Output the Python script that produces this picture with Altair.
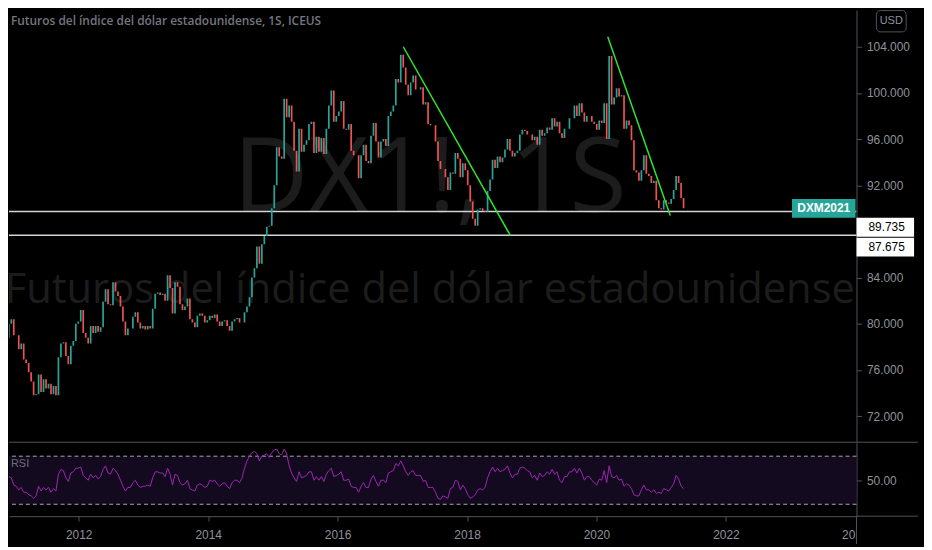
import altair as alt
import pandas as pd

# biweekly closes of the DX1! futures
first_open = 76.0
close_2010 = [76.5, 78.8, 80.0, 80.4, 79.0]
close_2011 = [79.0, 77.8, 78.3, 76.9, 76.6, 75.8, 75.0, 73.8, 73.9, 75.6, 74.1, 75.2, 74.4,
              74.8, 73.9, 74.6, 73.8, 77.1, 78.3, 78.4, 77.2, 76.5, 78.1, 78.5, 80.0, 80.2]
close_2012 = [81.2, 79.2, 78.8, 78.3, 79.8, 79.2, 79.8, 79.3, 79.7, 81.9, 83.0, 81.7, 81.6,
              83.6, 82.8, 82.4, 81.5, 80.2, 79.0, 79.6, 79.6, 80.6, 81.0, 80.1, 79.6, 79.8]
close_2013 = [79.5, 79.8, 79.6, 81.3, 82.6, 82.7, 82.5, 82.6, 82.0, 84.2, 83.1, 80.9, 83.6,
              83.2, 81.7, 81.2, 81.5, 82.2, 80.4, 80.1, 79.7, 80.7, 80.9, 80.7, 80.1, 80.3]
close_2014 = [80.7, 80.5, 80.8, 80.2, 79.8, 80.2, 80.3, 79.8, 79.4, 80.2, 80.4, 80.5, 80.1,
              80.1, 81.0, 81.5, 82.3, 84.0, 84.8, 86.7, 85.2, 86.9, 87.6, 88.4, 88.5, 90.0]
close_2015 = [92.0, 95.3, 94.5, 94.3, 99.5, 97.9, 98.9, 97.5, 95.0, 93.2, 96.9, 94.9, 95.5,
              95.9, 97.3, 97.5, 94.8, 96.2, 94.9, 96.1, 94.7, 96.9, 98.9, 100.2, 97.5, 98.0]
close_2016 = [98.4, 99.3, 96.9, 96.8, 97.3, 95.0, 94.6, 94.6, 92.6, 94.6, 95.5, 94.1, 93.9,
              96.3, 97.4, 95.8, 94.4, 95.8, 96.0, 95.4, 98.0, 98.4, 98.9, 101.2, 100.9, 103.3]
close_2017 = [102.2, 100.7, 99.8, 100.9, 101.5, 100.3, 100.3, 100.5, 99.0, 99.2, 97.3, 97.2,
              97.2, 95.8, 94.1, 93.4, 93.4, 92.7, 91.6, 93.1, 93.0, 94.8, 94.3, 92.7, 93.9, 93.3]
close_2018 = [92.0, 90.6, 89.1, 88.5, 89.9, 90.0, 89.8, 89.7, 91.5, 92.5, 94.2, 93.5, 94.5,
              94.0, 94.4, 95.1, 96.0, 95.0, 94.5, 94.8, 95.0, 96.4, 96.8, 96.7, 96.4, 96.4]
close_2019 = [95.9, 96.2, 95.5, 96.8, 96.3, 96.5, 97.0, 96.8, 97.8, 97.1, 97.5, 96.5, 96.1,
              96.9, 96.9, 97.8, 97.8, 98.9, 98.0, 99.1, 98.3, 97.5, 98.0, 98.0, 97.5, 97.3]
close_2020 = [96.8, 97.6, 97.4, 99.1, 96.0, 103.2, 99.0, 99.6, 100.4, 99.7, 99.8, 96.9, 97.6,
              97.2, 95.9, 93.3, 93.1, 92.4, 93.3, 94.6, 93.0, 92.8, 92.2, 92.4, 90.7, 90.0]
close_2021 = [89.9, 90.7, 90.5, 90.4, 90.8, 91.6, 92.8, 92.2, 90.9, 90.0]

rsi_2010 = [39, 47, 53, 52, 46]
rsi_2011 = [45, 42, 44, 40, 40, 38, 37, 35, 37, 45, 41, 44, 42,
            44, 40, 43, 41, 55, 59, 58, 52, 49, 56, 57, 60, 60]
rsi_2012 = [61, 54, 52, 50, 55, 52, 54, 51, 53, 59, 62, 56, 55,
            60, 58, 55, 50, 45, 41, 44, 44, 48, 50, 46, 44, 45]
rsi_2013 = [45, 46, 45, 52, 57, 57, 56, 56, 53, 60, 55, 46, 55,
            54, 48, 46, 47, 50, 43, 42, 41, 46, 47, 46, 44, 45]
rsi_2014 = [50, 49, 50, 47, 45, 47, 48, 45, 43, 48, 50, 50, 48,
            52, 60, 66, 70, 73, 74, 72, 66, 70, 71, 72, 69, 73]
rsi_2015 = [75, 76, 72, 71, 76, 72, 62, 56, 52, 49, 57, 52, 53,
            54, 57, 57, 50, 53, 50, 53, 49, 55, 58, 60, 53, 54]
rsi_2016 = [55, 57, 50, 50, 51, 45, 44, 44, 40, 45, 48, 44, 44,
            51, 54, 49, 45, 50, 50, 48, 56, 57, 58, 64, 62, 66]
rsi_2017 = [62, 57, 54, 57, 58, 54, 54, 54, 49, 50, 44, 44, 44,
            40, 35, 34, 37, 36, 35, 43, 44, 50, 49, 42, 46, 43]
rsi_2018 = [38, 35, 36, 38, 42, 43, 42, 44, 52, 57, 61, 57, 60,
            57, 58, 59, 62, 56, 52, 55, 55, 60, 61, 60, 58, 57]
rsi_2019 = [52, 54, 50, 56, 53, 54, 57, 55, 59, 55, 57, 50, 48,
            53, 53, 57, 57, 60, 56, 60, 56, 50, 53, 53, 50, 48]
rsi_2020 = [46, 51, 50, 58, 48, 62, 53, 52, 54, 50, 51, 45, 47,
            46, 43, 38, 37, 37, 42, 46, 42, 42, 40, 42, 39, 40]
rsi_2021 = [39, 43, 42, 41, 44, 47, 54, 51, 45, 43]

levels = [89.735, 87.675]
level_shift = [16, 12]
rsi_bands = [70, 30]
price_ticks = [72, 76, 80, 84, 92, 96, 100, 104]
year_ticks = [2012, 2014, 2016, 2018, 2020, 2022]
cut_year = ["2024"]  # label half hidden behind the price scale

trend_seg = ["a", "a", "b", "b"]
trend_date = ["2017-01-06", "2018-09-02", "2020-03-05", "2021-02-21"]
trend_price = [104.0, 87.66, 104.86, 89.38]

closes = (close_2010 + close_2011 + close_2012 + close_2013 + close_2014 + close_2015
          + close_2016 + close_2017 + close_2018 + close_2019 + close_2020 + close_2021)
rsi = (rsi_2010 + rsi_2011 + rsi_2012 + rsi_2013 + rsi_2014 + rsi_2015
       + rsi_2016 + rsi_2017 + rsi_2018 + rsi_2019 + rsi_2020 + rsi_2021)
dates = pd.date_range("2010-11-05", periods=len(closes), freq="14D")

candles = pd.DataFrame({"date": dates, "close": closes})
candles["open"] = [first_open] + closes[:-1]
candles["dir"] = ["up" if c >= o else "down" for o, c in zip(candles["open"], candles["close"])]
rsi_df = pd.DataFrame({"date": dates, "rsi": rsi})
trend = pd.DataFrame({"seg": trend_seg, "date": pd.to_datetime(trend_date), "price": trend_price})
cut_df = pd.DataFrame({"date": pd.to_datetime([y + "-01-01" for y in cut_year]),
                       "label": cut_year})
one = pd.DataFrame({"k": [0]})

GRAY = "#50535e"
LABEL = "#8f929b"
W = 854
RIGHT = 916  # keep page width inside the window

xscale = alt.Scale(domain=[alt.DateTime(year=2010, month=12, date=4),
                           alt.DateTime(year=2024, month=1, date=8)])
yscale = alt.Scale(domain=[69.78, 107.18], nice=False, zero=False)
rscale = alt.Scale(domain=[20.1, 81.2], nice=False, zero=False)

price_axis = alt.Axis(orient="right", values=price_ticks, format=".3f", tickSize=5,
                      labelPadding=5, domainColor=GRAY, tickColor=GRAY, labelColor=LABEL,
                      labelFontSize=12, labelFont="Liberation Sans", grid=False, title=None)


def py(field):
    return alt.Y(field, scale=yscale, axis=price_axis)


def px(field):
    return alt.X(field, scale=xscale, axis=None)


# watermark
wm1 = alt.Chart(one).mark_text(text="DX1!, 1S", font="Open Sans", fontSize=105,
                               color="#1c1c1c", align="center", baseline="alphabetic",
                               clip=True).encode(x=alt.value(424), y=alt.value(204))
wm2 = alt.Chart(one).mark_text(text="Futuros del índice del dólar estadounidense",
                               font="Open Sans", fontSize=42, color="#1c1c1c",
                               align="center", baseline="alphabetic", clip=True
                               ).encode(x=alt.value(424), y=alt.value(295))

level_lines = alt.Chart(pd.DataFrame({"level": levels})).mark_rule(
    color="#d1d4dc", strokeWidth=1.5, clip=True).encode(y=py("level:Q"))

bodies = alt.Chart(candles).mark_rule(strokeWidth=1.7, clip=True).encode(
    x=px("date:T"),
    y=py("open:Q"),
    y2="close:Q",
    color=alt.Color("dir:N", scale=alt.Scale(domain=["up", "down"],
                                             range=["#26a69a", "#ef5350"]), legend=None),
)

trend_lines = alt.Chart(trend).mark_line(color="#2ee62e", strokeWidth=1.5, clip=True).encode(
    x=px("date:T"), y=py("price:Q"), detail="seg:N")

title = alt.Chart(one).mark_text(
    text="Futuros del índice del dólar estadounidense, 1S, ICEUS", font="Open Sans",
    fontSize=12, fontWeight=600, color="#73767f", align="left", baseline="middle"
).encode(x=alt.value(2), y=alt.value(11))

last = candles.tail(1)
last_box = alt.Chart(last).mark_rule(color="#26a69a", strokeWidth=19, clip=False).encode(
    x=alt.value(789), x2=alt.value(853), y=py("close:Q"))
last_text = alt.Chart(last).mark_text(text="DXM2021", color="white", fontWeight="bold",
                                      fontSize=12, font="Liberation Sans", baseline="middle",
                                      clip=False).encode(
    x=alt.value(821), y=py("close:Q"))

level_tags = []
for lv, sh in zip(levels, level_shift):
    d = pd.DataFrame({"level": [lv], "label": [f"{lv:.3f}"]})
    level_tags.append(alt.Chart(d).mark_rule(color="white", strokeWidth=19, yOffset=sh,
                                              clip=False).encode(
        x=alt.value(W), x2=alt.value(912), y=py("level:Q")))
    level_tags.append(alt.Chart(d).mark_text(color="black", fontSize=12, font="Liberation Sans",
                                              align="left", baseline="middle", yOffset=sh,
                                              clip=False).encode(
        x=alt.value(866), y=py("level:Q"), text="label:N"))

usd_box = alt.Chart(one).mark_rect(fillOpacity=0, stroke=GRAY, strokeWidth=1, cornerRadius=4,
                                   clip=False).encode(
    x=alt.value(874), x2=alt.value(904), y=alt.value(0.5), y2=alt.value(22))
usd_text = alt.Chart(one).mark_text(text="USD", color=LABEL, fontSize=11, font="Liberation Sans",
                                    baseline="middle", clip=False).encode(
    x=alt.value(889), y=alt.value(11.5))

sep_top = alt.Chart(one).mark_rule(color=GRAY, clip=False).encode(
    x=alt.value(0), x2=alt.value(RIGHT), y=alt.value(435.5))

price_panel = alt.layer(
    wm1, wm2, level_lines, bodies, trend_lines, title, last_box, last_text,
    *level_tags, usd_box, usd_text, sep_top
).properties(width=W, height=435)

# RSI pane
year_axis = alt.Axis(values=[alt.DateTime(year=y, month=1, date=1) for y in year_ticks],
                     format="%Y", tickSize=5, labelPadding=9, domainColor=GRAY,
                     tickColor=GRAY, labelColor=LABEL, labelFontSize=12,
                     labelFont="Liberation Sans", grid=False, title=None)
rsi_axis = alt.Axis(orient="right", values=[50], format=".2f", tickSize=5,
                    labelPadding=5, domainColor=GRAY, tickColor=GRAY,
                    labelColor=LABEL, labelFontSize=12, labelFont="Liberation Sans",
                    grid=False, title=None)

band = alt.Chart(one).mark_rect(color="#140a20").encode(
    x=alt.value(0), x2=alt.value(W),
    y=alt.datum(70, scale=rscale, axis=rsi_axis), y2=alt.datum(30))
band_lines = alt.Chart(pd.DataFrame({"level": rsi_bands})).mark_rule(
    color="#a3a6ae", strokeDash=[4, 3], strokeWidth=1).encode(
    y=alt.Y("level:Q", scale=rscale, axis=rsi_axis))
rsi_line = alt.Chart(rsi_df).mark_line(color="#9c27b0", strokeWidth=1, clip=True).encode(
    x=alt.X("date:T", scale=xscale, axis=year_axis),
    y=alt.Y("rsi:Q", scale=rscale, axis=rsi_axis),
)
rsi_label = alt.Chart(one).mark_text(text="RSI", color="#6b6e78", fontSize=11,
                                     font="Liberation Sans", align="left",
                                     baseline="middle").encode(
    x=alt.value(2), y=alt.value(21))
cut_label = alt.Chart(cut_df).mark_text(color=LABEL, fontSize=12, font="Liberation Sans",
                                        baseline="top", clip=False).encode(
    x=alt.X("date:T", scale=xscale, axis=year_axis), y=alt.value(88), text="label:N")
cover = alt.Chart(one).mark_rect(color="#000000", clip=False).encode(
    x=alt.value(W + 0.5), x2=alt.value(RIGHT), y=alt.value(75), y2=alt.value(102))
sep_bottom = alt.Chart(one).mark_rule(color=GRAY, clip=False).encode(
    x=alt.value(W), x2=alt.value(RIGHT), y=alt.value(74))
vline = alt.Chart(one).mark_rule(color=GRAY, clip=False).encode(
    x=alt.value(W), y=alt.value(74), y2=alt.value(102))

rsi_panel = alt.layer(band, band_lines, rsi_line, rsi_label, cut_label, cover, sep_bottom, vline
                      ).properties(width=W, height=74)

chart = alt.vconcat(price_panel, rsi_panel, spacing=1, bounds="flush").properties(
    padding=0, background="#000000"
).configure_view(stroke=None)

chart.save("out.html", embed_options={"renderer": "svg", "actions": False})
